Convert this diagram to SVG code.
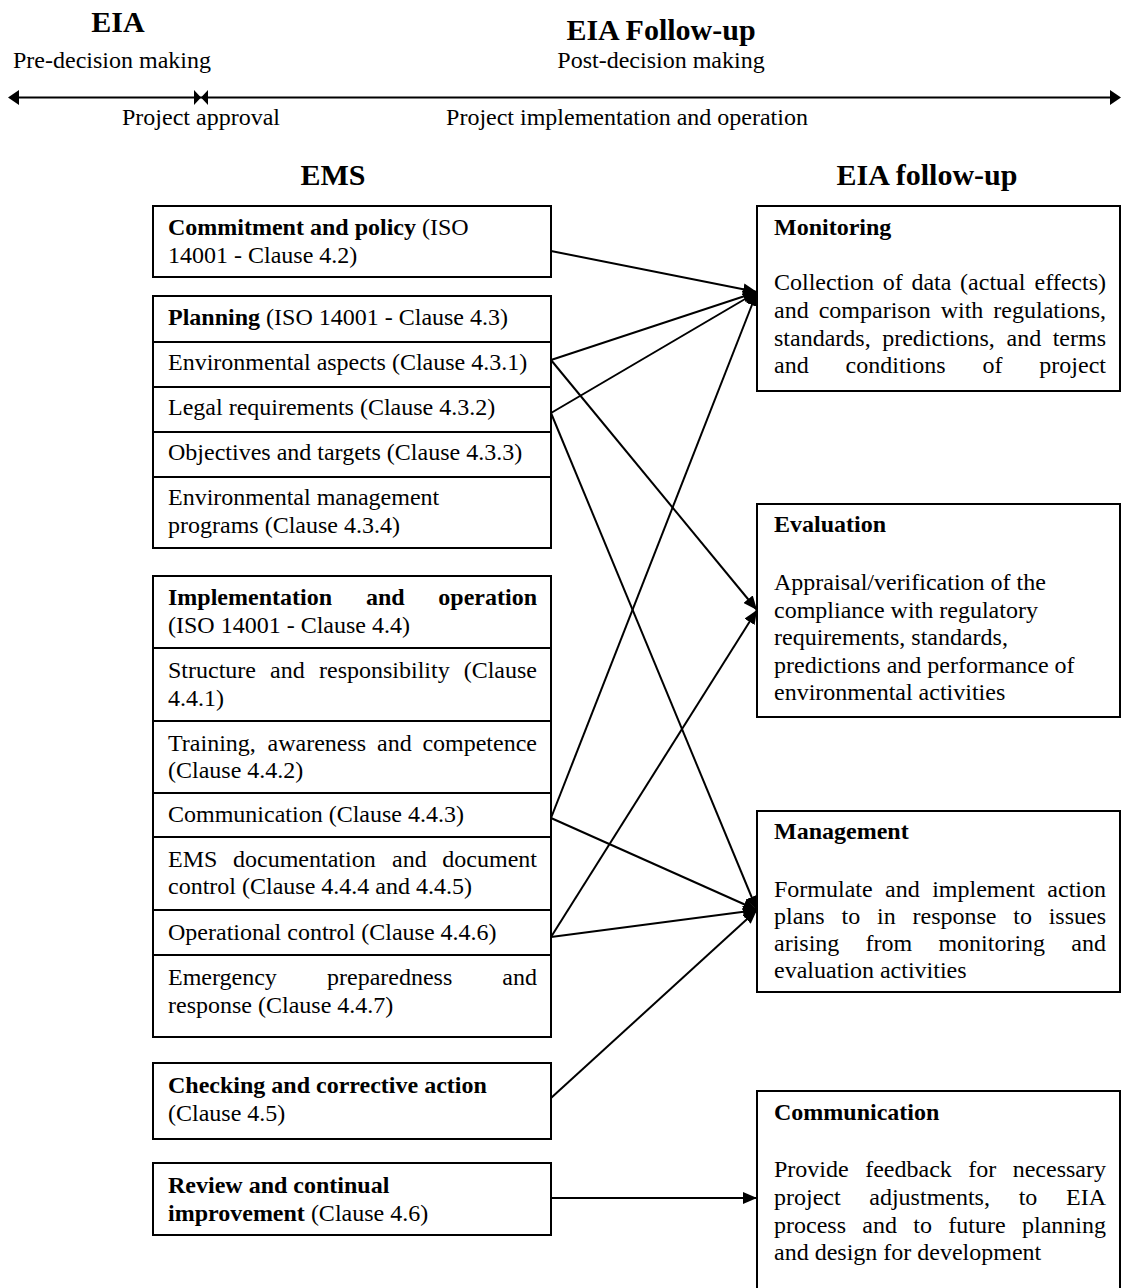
<svg xmlns="http://www.w3.org/2000/svg" width="1125" height="1288" viewBox="0 0 1125 1288">
  <defs>
    <style>
      text { font-family: "Liberation Serif", "Times New Roman", serif; font-size: 24px; fill: #000; }
      .b { font-weight: bold; }
      .h { font-weight: bold; font-size: 30px; text-anchor: middle; }
      .m { text-anchor: middle; }
      .box { fill: #fff; stroke: #000; stroke-width: 2; }
      .conn line { stroke: #000; stroke-width: 2; marker-end: url(#ah); }
      .tl { stroke: #000; stroke-width: 2; }
    </style>
    <marker id="ah" markerUnits="userSpaceOnUse" markerWidth="15" markerHeight="12" refX="14" refY="6" orient="auto">
      <path d="M0,0 L14,6 L0,12 Z" fill="#000"/>
    </marker>
  </defs>
  <rect width="1125" height="1288" fill="#fff"/>

  <!-- phase timeline -->
  <g id="timeline">
    <text class="h" x="118" y="32">EIA</text>
    <text class="m" x="112" y="68">Pre-decision making</text>
    <text class="h" x="661" y="40">EIA Follow-up</text>
    <text class="m" x="661" y="68">Post-decision making</text>
    <line class="tl" x1="14" y1="97.5" x2="1114" y2="97.5"/>
    <path d="M8,97.5 L19,90 L19,105 Z"/>
    <path d="M194,90 L201,97.5 L194,105 Z M208,90 L201,97.5 L208,105 Z"/>
    <path d="M1121,97.5 L1110,90 L1110,105 Z"/>
    <text class="m" x="201" y="125">Project approval</text>
    <text class="m" x="627" y="125">Project implementation and operation</text>
  </g>

  <!-- column headings -->
  <text class="h" x="333" y="185">EMS</text>
  <text class="h" x="927" y="185">EIA follow-up</text>

  <!-- connectors -->
  <g id="connectors" class="conn">
    <line x1="551" y1="251" x2="757" y2="292"/>
    <line x1="551" y1="360" x2="757" y2="292"/>
    <line x1="551" y1="360" x2="757" y2="610"/>
    <line x1="551" y1="413" x2="757" y2="292"/>
    <line x1="551" y1="413" x2="757" y2="910"/>
    <line x1="551" y1="818" x2="757" y2="292"/>
    <line x1="551" y1="818" x2="757" y2="910"/>
    <line x1="551" y1="937" x2="757" y2="610"/>
    <line x1="551" y1="937" x2="757" y2="910"/>
    <line x1="551" y1="1098" x2="757" y2="910"/>
    <line x1="551" y1="1198" x2="757" y2="1198"/>
  </g>

  <!-- EMS elements (left column) -->
  <g id="commitment">
    <rect class="box" x="153" y="206" width="398" height="71"/>
    <text x="168" y="235"><tspan class="b">Commitment and policy</tspan> (ISO</text>
    <text x="168" y="263">14001 - Clause 4.2)</text>
  </g>

  <g id="planning">
    <rect class="box" x="153" y="296" width="398" height="46"/>
    <text x="168" y="325"><tspan class="b">Planning</tspan> (ISO 14001 - Clause 4.3)</text>
  </g>
  <g id="env-aspects">
    <rect class="box" x="153" y="342" width="398" height="45"/>
    <text x="168" y="370">Environmental aspects (Clause 4.3.1)</text>
  </g>
  <g id="legal">
    <rect class="box" x="153" y="387" width="398" height="45"/>
    <text x="168" y="415">Legal requirements (Clause 4.3.2)</text>
  </g>
  <g id="objectives">
    <rect class="box" x="153" y="432" width="398" height="45"/>
    <text x="168" y="460">Objectives and targets (Clause 4.3.3)</text>
  </g>
  <g id="programs">
    <rect class="box" x="153" y="477" width="398" height="71"/>
    <text x="168" y="505">Environmental management</text>
    <text x="168" y="533">programs (Clause 4.3.4)</text>
  </g>

  <g id="implementation">
    <rect class="box" x="153" y="576" width="398" height="72"/>
    <text y="605" class="b"><tspan x="168">Implementation</tspan><tspan x="366">and</tspan><tspan x="537" text-anchor="end">operation</tspan></text>
    <text x="168" y="633">(ISO 14001 - Clause 4.4)</text>
  </g>
  <g id="structure">
    <rect class="box" x="153" y="648" width="398" height="73"/>
    <text y="678"><tspan x="168">Structure</tspan><tspan x="270">and</tspan><tspan x="319">responsibility</tspan><tspan x="537" text-anchor="end">(Clause</tspan></text>
    <text x="168" y="706">4.4.1)</text>
  </g>
  <g id="training">
    <rect class="box" x="153" y="721" width="398" height="72"/>
    <text y="751"><tspan x="168">Training,</tspan><tspan x="267.5">awareness</tspan><tspan x="377">and</tspan><tspan x="537" text-anchor="end">competence</tspan></text>
    <text x="168" y="778">(Clause 4.4.2)</text>
  </g>
  <g id="ems-communication">
    <rect class="box" x="153" y="793" width="398" height="44"/>
    <text x="168" y="822">Communication (Clause 4.4.3)</text>
  </g>
  <g id="documentation">
    <rect class="box" x="153" y="837" width="398" height="73"/>
    <text y="867"><tspan x="168">EMS</tspan><tspan x="233">documentation</tspan><tspan x="392">and</tspan><tspan x="537" text-anchor="end">document</tspan></text>
    <text x="168" y="894">control (Clause 4.4.4 and 4.4.5)</text>
  </g>
  <g id="operational">
    <rect class="box" x="153" y="910" width="398" height="45"/>
    <text x="168" y="940">Operational control (Clause 4.4.6)</text>
  </g>
  <g id="emergency">
    <rect class="box" x="153" y="955" width="398" height="82"/>
    <text y="985"><tspan x="168">Emergency</tspan><tspan x="327">preparedness</tspan><tspan x="537" text-anchor="end">and</tspan></text>
    <text x="168" y="1013">response (Clause 4.4.7)</text>
  </g>

  <g id="checking">
    <rect class="box" x="153" y="1063" width="398" height="76"/>
    <text x="168" y="1093" class="b">Checking and corrective action</text>
    <text x="168" y="1121">(Clause 4.5)</text>
  </g>
  <g id="review">
    <rect class="box" x="153" y="1163" width="398" height="72"/>
    <text x="168" y="1193" class="b">Review and continual</text>
    <text x="168" y="1221"><tspan class="b">improvement</tspan> (Clause 4.6)</text>
  </g>

  <!-- EIA follow-up activities (right column) -->
  <g id="monitoring">
    <rect class="box" x="757" y="206" width="363" height="185"/>
    <text x="774" y="235" class="b">Monitoring</text>
    <text y="290"><tspan x="774">Collection</tspan><tspan x="882.7">of</tspan><tspan x="911.4">data</tspan><tspan x="960.1">(actual</tspan><tspan x="1106" text-anchor="end">effects)</tspan></text>
    <text y="318"><tspan x="774">and</tspan><tspan x="818.7">comparison</tspan><tspan x="940.7">with</tspan><tspan x="1106" text-anchor="end">regulations,</tspan></text>
    <text y="346"><tspan x="774">standards,</tspan><tspan x="882.2">predictions,</tspan><tspan x="1006.5">and</tspan><tspan x="1106" text-anchor="end">terms</tspan></text>
    <text y="373"><tspan x="774">and</tspan><tspan x="845.6">conditions</tspan><tspan x="982.5">of</tspan><tspan x="1106" text-anchor="end">project</tspan></text>
  </g>

  <g id="evaluation">
    <rect class="box" x="757" y="504" width="363" height="213"/>
    <text x="774" y="532" class="b">Evaluation</text>
    <text x="774" y="590">Appraisal/verification of the</text>
    <text x="774" y="618">compliance with regulatory</text>
    <text x="774" y="645">requirements, standards,</text>
    <text x="774" y="673">predictions and performance of</text>
    <text x="774" y="700">environmental activities</text>
  </g>

  <g id="management">
    <rect class="box" x="757" y="811" width="363" height="181"/>
    <text x="774" y="839" class="b">Management</text>
    <text y="897"><tspan x="774">Formulate</tspan><tspan x="885.1">and</tspan><tspan x="932.2">implement</tspan><tspan x="1106" text-anchor="end">action</tspan></text>
    <text y="924"><tspan x="774">plans</tspan><tspan x="841.5">to</tspan><tspan x="877">in</tspan><tspan x="912.5">response</tspan><tspan x="1013.3">to</tspan><tspan x="1106" text-anchor="end">issues</tspan></text>
    <text y="951"><tspan x="774">arising</tspan><tspan x="865.5">from</tspan><tspan x="938.4">monitoring</tspan><tspan x="1106" text-anchor="end">and</tspan></text>
    <text x="774" y="978">evaluation activities</text>
  </g>

  <g id="eia-communication">
    <rect class="box" x="757" y="1091" width="363" height="210"/>
    <text x="774" y="1120" class="b">Communication</text>
    <text y="1177"><tspan x="774">Provide</tspan><tspan x="865.2">feedback</tspan><tspan x="968.3">for</tspan><tspan x="1106" text-anchor="end">necessary</tspan></text>
    <text y="1205"><tspan x="774">project</tspan><tspan x="869.3">adjustments,</tspan><tspan x="1018.7">to</tspan><tspan x="1106" text-anchor="end">EIA</tspan></text>
    <text y="1233"><tspan x="774">process</tspan><tspan x="862.3">and</tspan><tspan x="913.3">to</tspan><tspan x="948.3">future</tspan><tspan x="1106" text-anchor="end">planning</tspan></text>
    <text x="774" y="1260">and design for development</text>
  </g>
</svg>
